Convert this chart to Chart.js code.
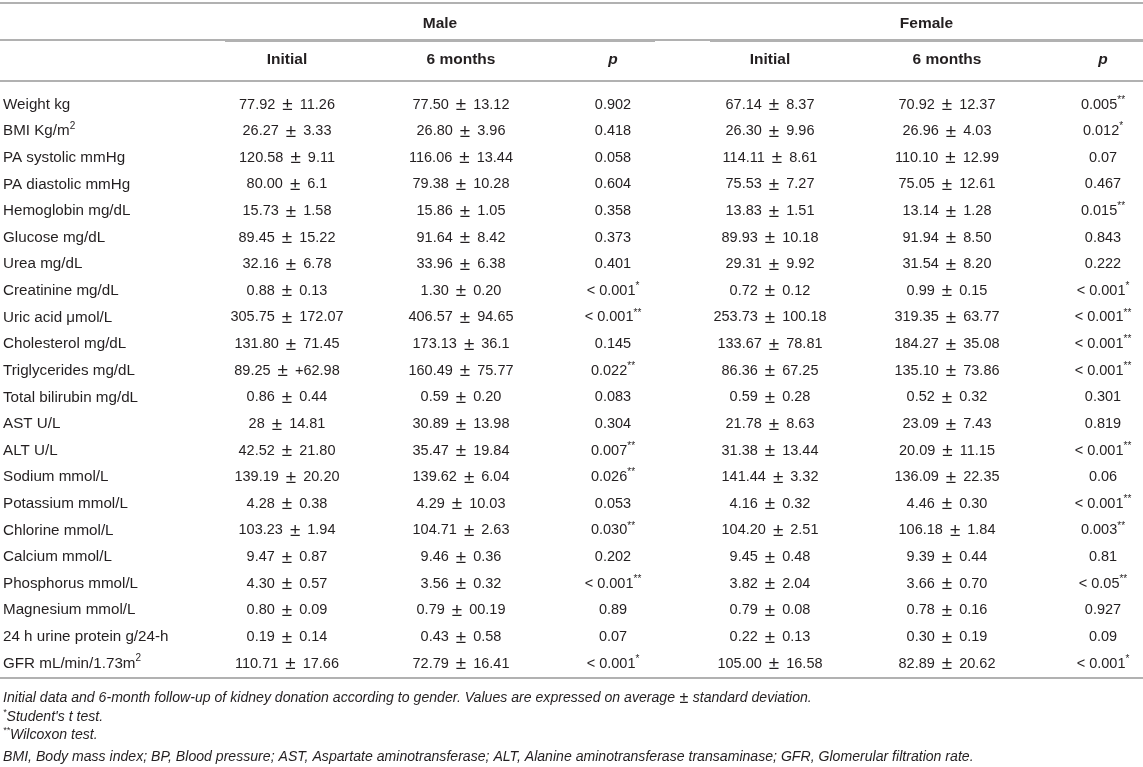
<!DOCTYPE html>
<html lang="en">
<head>
  <meta charset="UTF-8" />
  <title>Kidney donors, initial vs 6 months by gender</title>
  <script src="https://cdn.jsdelivr.net/npm/chart.js"></script>
  <style>
    html, body { margin: 0; padding: 0; background: #fff; }
    canvas { display: block; }
  </style>
</head>
<body>
  <canvas id="tableChart" width="1143" height="767"></canvas>

  <script>
    // table content
    const groups = ['Male', 'Female'];
    const columns = ['Initial', '6 months', 'p', 'Initial', '6 months', 'p'];
    const variables = [
      'Weight kg', 'BMI Kg/m²', 'PA systolic mmHg', 'PA diastolic mmHg', 'Hemoglobin mg/dL',
      'Glucose mg/dL', 'Urea mg/dL', 'Creatinine mg/dL', 'Uric acid μmol/L', 'Cholesterol mg/dL',
      'Triglycerides mg/dL', 'Total bilirubin mg/dL', 'AST U/L', 'ALT U/L', 'Sodium mmol/L',
      'Potassium mmol/L', 'Chlorine mmol/L', 'Calcium mmol/L', 'Phosphorus mmol/L',
      'Magnesium mmol/L', '24 h urine protein g/24-h', 'GFR mL/min/1.73m²'
    ];
    const maleInitial = [
      '77.92 ± 11.26', '26.27 ± 3.33', '120.58 ± 9.11', '80.00 ± 6.1', '15.73 ± 1.58',
      '89.45 ± 15.22', '32.16 ± 6.78', '0.88 ± 0.13', '305.75 ± 172.07', '131.80 ± 71.45',
      '89.25 ± +62.98', '0.86 ± 0.44', '28 ± 14.81', '42.52 ± 21.80', '139.19 ± 20.20',
      '4.28 ± 0.38', '103.23 ± 1.94', '9.47 ± 0.87', '4.30 ± 0.57', '0.80 ± 0.09',
      '0.19 ± 0.14', '110.71 ± 17.66'
    ];
    const maleSixMonths = [
      '77.50 ± 13.12', '26.80 ± 3.96', '116.06 ± 13.44', '79.38 ± 10.28', '15.86 ± 1.05',
      '91.64 ± 8.42', '33.96 ± 6.38', '1.30 ± 0.20', '406.57 ± 94.65', '173.13 ± 36.1',
      '160.49 ± 75.77', '0.59 ± 0.20', '30.89 ± 13.98', '35.47 ± 19.84', '139.62 ± 6.04',
      '4.29 ± 10.03', '104.71 ± 2.63', '9.46 ± 0.36', '3.56 ± 0.32', '0.79 ± 00.19',
      '0.43 ± 0.58', '72.79 ± 16.41'
    ];
    const maleP = [
      '0.902', '0.418', '0.058', '0.604', '0.358', '0.373', '0.401', '< 0.001*', '< 0.001**',
      '0.145', '0.022**', '0.083', '0.304', '0.007**', '0.026**', '0.053', '0.030**', '0.202',
      '< 0.001**', '0.89', '0.07', '< 0.001*'
    ];
    const femaleInitial = [
      '67.14 ± 8.37', '26.30 ± 9.96', '114.11 ± 8.61', '75.53 ± 7.27', '13.83 ± 1.51',
      '89.93 ± 10.18', '29.31 ± 9.92', '0.72 ± 0.12', '253.73 ± 100.18', '133.67 ± 78.81',
      '86.36 ± 67.25', '0.59 ± 0.28', '21.78 ± 8.63', '31.38 ± 13.44', '141.44 ± 3.32',
      '4.16 ± 0.32', '104.20 ± 2.51', '9.45 ± 0.48', '3.82 ± 2.04', '0.79 ± 0.08',
      '0.22 ± 0.13', '105.00 ± 16.58'
    ];
    const femaleSixMonths = [
      '70.92 ± 12.37', '26.96 ± 4.03', '110.10 ± 12.99', '75.05 ± 12.61', '13.14 ± 1.28',
      '91.94 ± 8.50', '31.54 ± 8.20', '0.99 ± 0.15', '319.35 ± 63.77', '184.27 ± 35.08',
      '135.10 ± 73.86', '0.52 ± 0.32', '23.09 ± 7.43', '20.09 ± 11.15', '136.09 ± 22.35',
      '4.46 ± 0.30', '106.18 ± 1.84', '9.39 ± 0.44', '3.66 ± 0.70', '0.78 ± 0.16',
      '0.30 ± 0.19', '82.89 ± 20.62'
    ];
    const femaleP = [
      '0.005**', '0.012*', '0.07', '0.467', '0.015**', '0.843', '0.222', '< 0.001*', '< 0.001**',
      '< 0.001**', '< 0.001**', '0.301', '0.819', '< 0.001**', '0.06', '< 0.001**', '0.003**',
      '0.81', '< 0.05**', '0.927', '0.09', '< 0.001*'
    ];
    const notes = [
      'Initial data and 6-month follow-up of kidney donation according to gender. Values are expressed on average ± standard deviation.',
      '*Student\'s t test.',
      '**Wilcoxon test.',
      'BMI, Body mass index; BP, Blood pressure; AST, Aspartate aminotransferase; ALT, Alanine aminotransferase transaminase; GFR, Glomerular filtration rate.'
    ];

    // layout (canvas pixels on the x scale, row units on the y scale)
    const W = 1143, H = 767;
    const rowTop = 104.5, rowStep = 26.62;
    const labelX = 3;
    const colX = [287, 461, 613, 770, 947, 1103];
    const groupSpan = [[225, 655], [710, 1143]];
    const headRow = -3.03, subRow = -1.68;
    const lineRows = [-3.81, -2.43, -0.88, 21.55];
    const noteRows = [22.3, 23.0, 23.7, 24.5];
    const FONT = '"Liberation Sans", Arial, Helvetica, sans-serif';
    const SIZE = { label: 15.2, cell: 14.5, head: 15.5, note: 14.1 };
    const PM = { scale: 1.3, pad: 3 };   // ± is drawn larger, with a little extra room
    const INK = '#231f20';
    const RULE = '#b1b1b1';

    const yMin = -rowTop / rowStep;
    const yMax = yMin + H / rowStep;

    const bodyCols = [maleInitial, maleSixMonths, maleP, femaleInitial, femaleSixMonths, femaleP];
    const datasets = [{
      label: 'variable', align: 'left', size: SIZE.label,
      data: variables.map((v, i) => ({ x: labelX, y: i, t: v }))
    }].concat(bodyCols.map((col, c) => ({
      label: columns[c], align: 'center', size: SIZE.cell,
      data: col.map((v, i) => ({ x: colX[c], y: i, t: v }))
    })));
    datasets.forEach(d => { d.pointRadius = 0; d.pointHoverRadius = 0; d.showLine = false; });

    // split text into runs: normal, superscript (asterisks, ²) and the ± sign
    function runs(str) {
      const out = [];
      for (const ch of str) {
        const kind = (ch === '*' || ch === '²') ? 'sup' : (ch === '±' ? 'pm' : 'txt');
        const t = ch === '²' ? '2' : ch;
        const last = out[out.length - 1];
        if (last && last.kind === kind && kind !== 'pm') last.t += t; else out.push({ t, kind });
      }
      return out;
    }

    function drawRich(ctx, str, x, y, align, size, style, pm) {
      const parts = runs(str);
      const fonts = {
        txt: style + ' ' + size + 'px ' + FONT,
        sup: style + ' ' + Math.round(size * 0.66) + 'px ' + FONT,
        pm: style + ' ' + (size * pm.scale).toFixed(1) + 'px ' + FONT
      };
      let total = 0;
      parts.forEach(p => {
        ctx.font = fonts[p.kind];
        p.w = ctx.measureText(p.t).width + (p.kind === 'pm' ? 2 * pm.pad : 0);
        total += p.w;
      });
      let cx = align === 'center' ? x - total / 2 : x;
      ctx.textAlign = 'left';
      ctx.textBaseline = 'middle';
      parts.forEach(p => {
        ctx.font = fonts[p.kind];
        let py = y;
        if (p.kind === 'sup') py = y - size * 0.32;
        if (p.kind === 'pm') py = y + size * 0.03;
        ctx.fillText(p.t, cx + (p.kind === 'pm' ? pm.pad : 0), py);
        cx += p.w;
      });
    }

    const plain = { scale: 1, pad: 0 };

    const tablePlugin = {
      id: 'tablePlugin',
      afterDatasetsDraw(chart) {
        const ctx = chart.ctx;
        const xs = chart.scales.x, ys = chart.scales.y;
        ctx.save();
        ctx.fillStyle = INK;

        // rules
        ctx.strokeStyle = RULE;
        ctx.lineWidth = 2;
        lineRows.forEach(r => {
          const y = Math.round(ys.getPixelForValue(r));
          ctx.beginPath();
          ctx.moveTo(xs.getPixelForValue(0), y);
          ctx.lineTo(xs.getPixelForValue(W), y);
          ctx.stroke();
        });
        // group underlines
        const gy = Math.round(ys.getPixelForValue(-2.38));
        groupSpan.forEach(s => {
          ctx.beginPath();
          ctx.moveTo(xs.getPixelForValue(s[0]), gy);
          ctx.lineTo(xs.getPixelForValue(s[1]), gy);
          ctx.stroke();
        });

        // group header and column headers
        groups.forEach((g, i) => {
          const cx = xs.getPixelForValue((groupSpan[i][0] + groupSpan[i][1]) / 2);
          drawRich(ctx, g, cx, ys.getPixelForValue(headRow), 'center', SIZE.head, 'bold', plain);
        });
        columns.forEach((c, i) => {
          drawRich(ctx, c, xs.getPixelForValue(colX[i]), ys.getPixelForValue(subRow), 'center', SIZE.head,
            c === 'p' ? 'italic bold' : 'bold', plain);
        });

        // body cells from the scatter elements
        chart.data.datasets.forEach((ds, di) => {
          chart.getDatasetMeta(di).data.forEach((el, i) => {
            drawRich(ctx, ds.data[i].t, el.x, el.y, ds.align, ds.size, 'normal', PM);
          });
        });

        // footnotes
        notes.forEach((n, i) => {
          drawRich(ctx, n, xs.getPixelForValue(labelX), ys.getPixelForValue(noteRows[i]), 'left',
            SIZE.note, 'italic', { scale: 1.15, pad: 0.5 });
        });
        ctx.restore();
      }
    };

    new Chart(document.getElementById('tableChart'), {
      type: 'scatter',
      data: { datasets },
      options: {
        responsive: false,
        animation: false,
        devicePixelRatio: 1,
        layout: { padding: 0 },
        plugins: { legend: { display: false }, tooltip: { enabled: false } },
        scales: {
          x: { type: 'linear', min: 0, max: W, display: false },
          y: { type: 'linear', min: yMin, max: yMax, reverse: true, display: false }
        }
      },
      plugins: [tablePlugin]
    });
  </script>
</body>
</html>
